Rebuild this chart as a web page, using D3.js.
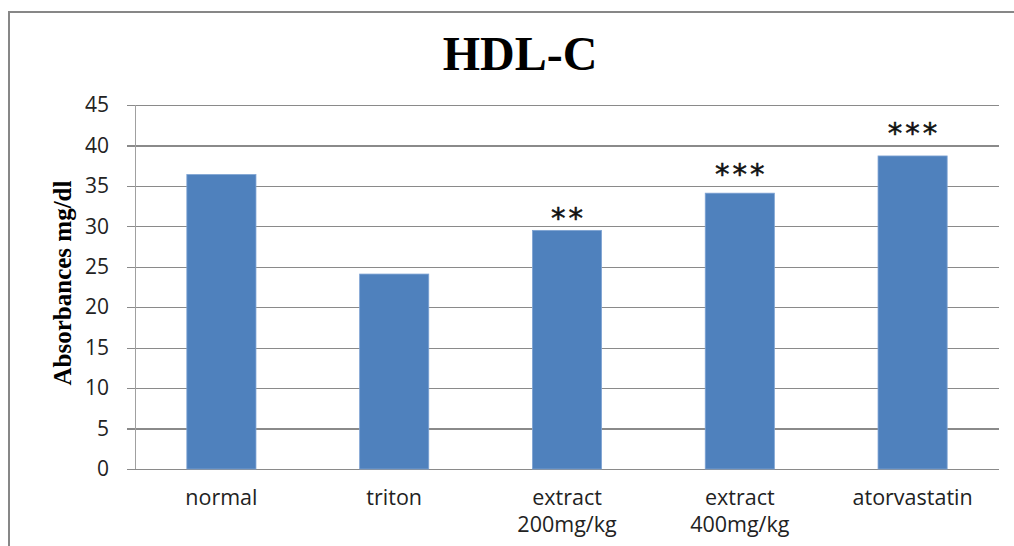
<!DOCTYPE html>
<html>
<head>
<meta charset="utf-8">
<script src="https://cdn.jsdelivr.net/npm/d3@7"></script>
<style>
  html, body { margin: 0; padding: 0; background: #fff; }
  svg { display: block; }
</style>
</head>
<body>
<svg id="chart" width="1014" height="546"></svg>
<script>
// ---- data ----
const categories = ["normal", "triton", "extract\n200mg/kg", "extract\n400mg/kg", "atorvastatin"];
const values = [36.4, 24.1, 29.5, 34.1, 38.7];
const significance = ["", "", "**", "***", "***"];
const significanceLevel = [null, null, 32.0, 37.4, 42.5];
const yTicks = [0, 5, 10, 15, 20, 25, 30, 35, 40, 45];
const title = "HDL-C";
const yTitle = "Absorbances mg/dl";

// ---- layout ----
const W = 1014, H = 546;
const plot = { left: 135, right: 999, top: 105, bottom: 469 };

const svg = d3.select("#chart");

// outer frame (left + top lines)
svg.append("path")
  .attr("d", `M9,${H} L9,12 L${W},12`)
  .attr("fill", "none")
  .attr("stroke", "#878787")
  .attr("stroke-width", 2);

const x = d3.scaleBand()
  .domain(categories)
  .range([plot.left, plot.right])
  .paddingInner(0.6)
  .paddingOuter(0.3);

const y = d3.scaleLinear()
  .domain([0, 45])
  .range([plot.bottom, plot.top]);

// gridlines + y axis ticks
const yAxis = d3.axisLeft(y)
  .tickValues(yTicks)
  .tickSize(-(plot.right - plot.left))
  .tickPadding(26)
  .tickFormat(d3.format("d"));

const gy = svg.append("g")
  .attr("transform", `translate(${plot.left},0)`)
  .call(yAxis);
gy.select(".domain").remove();
gy.selectAll(".tick line")
  .attr("x1", -8)
  .attr("stroke", "#8a8a8a")
  .attr("stroke-width", 1.2)
  .attr("shape-rendering", "crispEdges");
gy.selectAll(".tick text")
  .attr("font-family", "'Open Sans', sans-serif")
  .attr("font-size", 21)
  .attr("fill", "#222");

// y axis vertical line
svg.append("line")
  .attr("x1", plot.left).attr("x2", plot.left)
  .attr("y1", plot.top).attr("y2", plot.bottom)
  .attr("stroke", "#a0a0a0")
  .attr("stroke-width", 1)
  .attr("shape-rendering", "crispEdges");

// bars
svg.append("g").selectAll("rect")
  .data(values)
  .join("rect")
  .attr("x", (d, i) => x(categories[i]))
  .attr("width", x.bandwidth())
  .attr("y", d => y(d))
  .attr("height", d => y(0) - y(d))
  .attr("fill", "#4f81bd")
  .attr("stroke", "#7ea3d3")
  .attr("stroke-width", 0.8);

// significance stars
const gs = svg.append("g");
significance.forEach((s, i) => {
  if (!s) return;
  gs.append("text")
    .attr("x", x(categories[i]) + x.bandwidth() / 2 + 1.5)
    .attr("y", y(significanceLevel[i]))
    .attr("dy", "0.6em")
    .attr("text-anchor", "middle")
    .attr("font-family", "'DejaVu Sans', sans-serif")
    .attr("font-size", 29)
    .attr("letter-spacing", 3)
    .attr("stroke", "#111")
    .attr("stroke-width", 0.5)
    .attr("fill", "#111")
    .text(s);
});

// x category labels (each line its own text element)
const gx = svg.append("g");
categories.forEach((c, i) => {
  c.split("\n").forEach((l, j) => {
    gx.append("text")
      .attr("x", x(c) + x.bandwidth() / 2)
      .attr("y", 505 + j * 27)
      .attr("text-anchor", "middle")
      .attr("font-family", "'Open Sans', sans-serif")
      .attr("font-size", 21.5)
      .attr("fill", "#222")
      .text(l);
  });
});

// title
svg.append("text")
  .attr("x", 520)
  .attr("y", 70)
  .attr("text-anchor", "middle")
  .attr("font-family", "'Liberation Serif', 'Times New Roman', serif")
  .attr("font-weight", "bold")
  .attr("font-size", 48)
  .attr("fill", "#000")
  .text(title);

// y axis title
svg.append("text")
  .attr("transform", `translate(71,283) rotate(-90)`)
  .attr("text-anchor", "middle")
  .attr("font-family", "'Liberation Serif', 'Times New Roman', serif")
  .attr("font-weight", "bold")
  .attr("font-size", 25)
  .attr("fill", "#000")
  .text(yTitle);
</script>
</body>
</html>
